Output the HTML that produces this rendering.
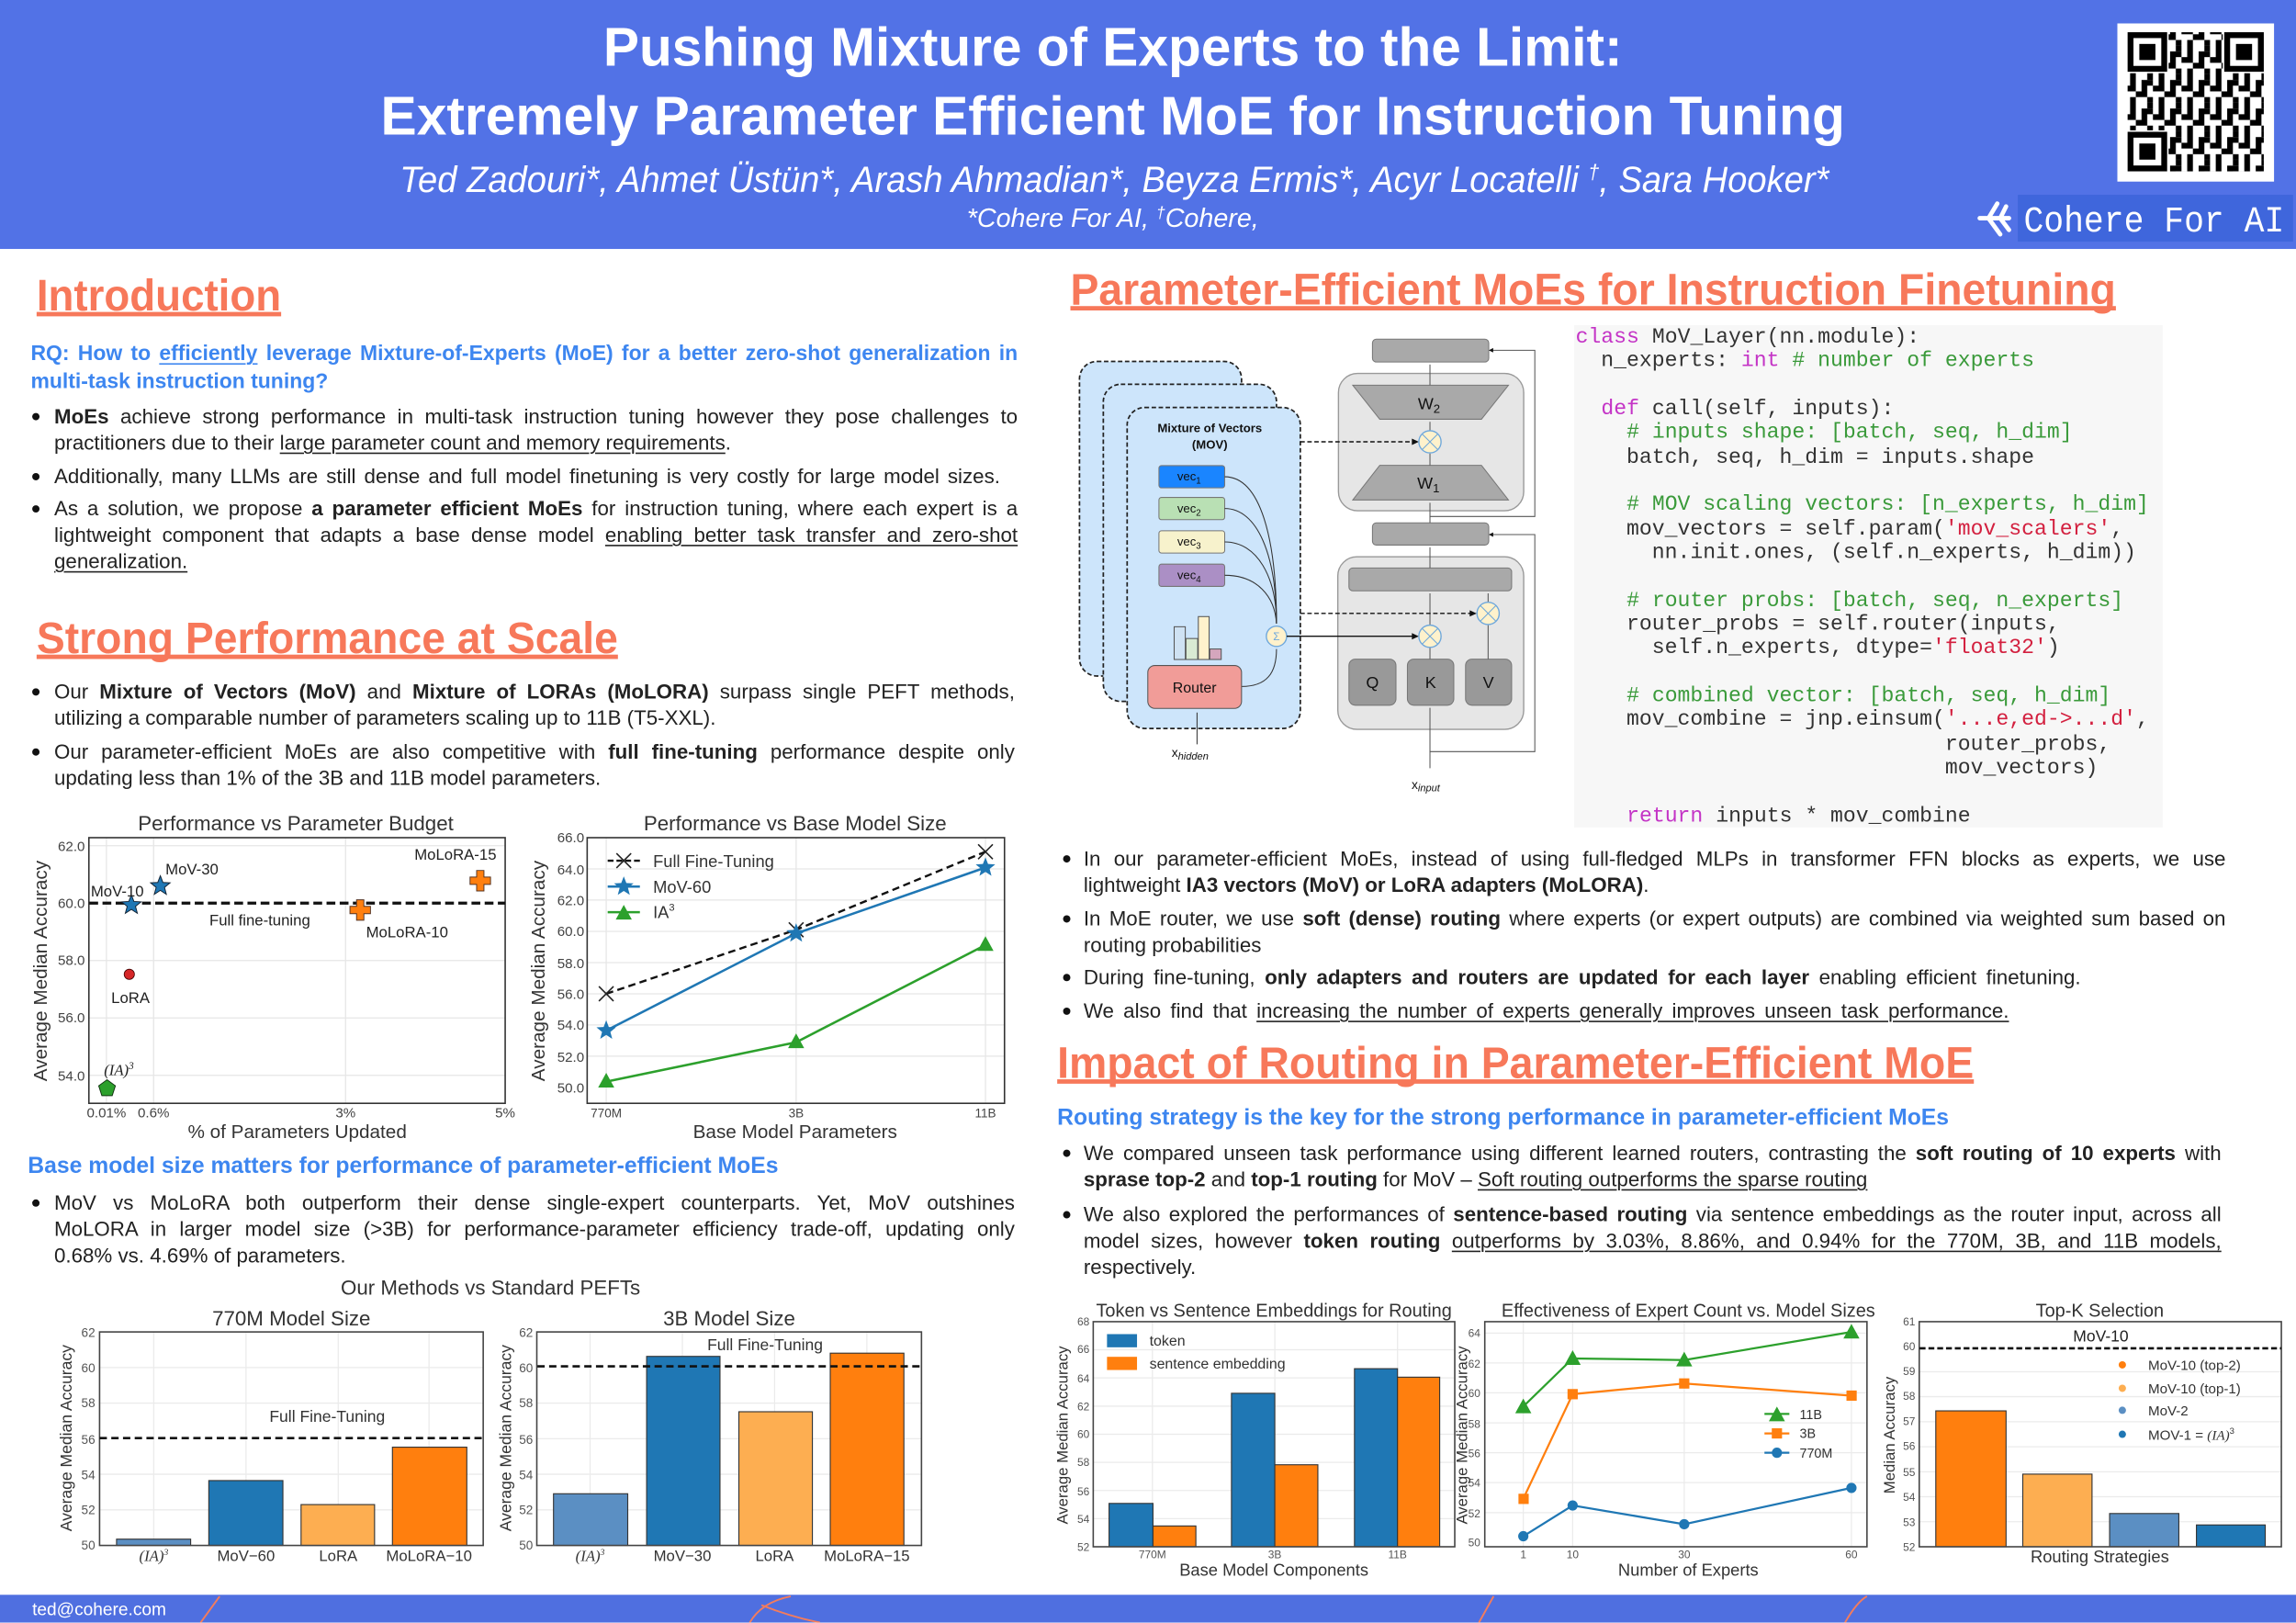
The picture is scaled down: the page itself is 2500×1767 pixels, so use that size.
<!DOCTYPE html>
<html><head><meta charset="utf-8"><style>
html,body{margin:0;padding:0;background:#fff;}
body{width:2500px;height:1767px;overflow:hidden;position:relative;}
#c{position:absolute;left:0;top:0;width:1568px;height:1108px;transform:scale(1.59439);transform-origin:0 0;font-family:"Liberation Sans",sans-serif;color:#222;}
.L{position:absolute;height:18px;line-height:18px;font-size:14px;white-space:nowrap;}
.J{text-align:justify;text-align-last:justify;}
.B{position:absolute;width:5px;height:5px;border-radius:50%;background:#111;}
.blue{color:#3d86f0;font-weight:bold;font-size:14.5px;}
u{text-decoration-thickness:1px;text-underline-offset:2px;}
#code{position:absolute;left:1075px;top:222px;width:402px;height:343px;background:#f7f7f7;}
.cl{position:absolute;left:1px;height:16px;line-height:16px;font-family:"Liberation Mono",monospace;font-size:14.5px;white-space:pre;color:#333;}
.k{color:#c434c6}.g{color:#3a9a3a}.s{color:#d3203f}
svg{position:absolute;left:0;top:0;}
</style></head><body><div id="c">
<svg width="1568" height="1108" viewBox="0 0 1568 1108" font-family="Liberation Sans, sans-serif">
<defs>
<polygon id="star" points="0,-7 1.76,-2.43 6.66,-2.16 2.85,0.93 4.11,5.66 0,3 -4.11,5.66 -2.85,0.93 -6.66,-2.16 -1.76,-2.43"/>
<polygon id="plus" points="-2.5,-7 2.5,-7 2.5,-2.5 7,-2.5 7,2.5 2.5,2.5 2.5,7 -2.5,7 -2.5,2.5 -7,2.5 -7,-2.5 -2.5,-2.5"/>
<polygon id="tri" points="0,-6 5.5,4 -5.5,4"/>
<pattern id="qr" width="19.5" height="19.5" patternUnits="userSpaceOnUse">
<rect x="0" y="0" width="3.9" height="7.8" fill="#000"/><rect x="7.8" y="0" width="7.8" height="3.9" fill="#000"/><rect x="3.9" y="11.7" width="3.9" height="3.9" fill="#000"/><rect x="11.7" y="7.8" width="3.9" height="11.7" fill="#000"/><rect x="0" y="15.6" width="7.8" height="3.9" fill="#000"/><rect x="15.6" y="3.9" width="3.9" height="3.9" fill="#000"/><rect x="3.9" y="7.8" width="3.9" height="3.9" fill="#000"/>
</pattern>
</defs>
<!-- header -->
<rect x="0" y="0" width="1568" height="170" fill="#5272e6"/>
<text x="760" y="45" text-anchor="middle" font-size="37" font-weight="bold" fill="#fff" textLength="696" lengthAdjust="spacingAndGlyphs">Pushing Mixture of Experts to the Limit:</text>
<text x="760" y="92" text-anchor="middle" font-size="37" font-weight="bold" fill="#fff" textLength="1000" lengthAdjust="spacingAndGlyphs">Extremely Parameter Efficient MoE for Instruction Tuning</text>
<text x="761" y="131" text-anchor="middle" font-size="25" font-style="italic" fill="#fff" textLength="976" lengthAdjust="spacingAndGlyphs">Ted Zadouri*, Ahmet Üstün*, Arash Ahmadian*, Beyza Ermis*, Acyr Locatelli <tspan font-size="14" dy="-9">†</tspan><tspan dy="9">, Sara Hooker*</tspan></text>
<text x="760" y="155" text-anchor="middle" font-size="18" font-style="italic" fill="#fff">*Cohere For AI,  <tspan font-size="11" dy="-6">†</tspan><tspan dy="6">Cohere,</tspan></text>
<rect x="1446" y="16" width="107" height="108" fill="#fff"/>
<rect x="1453" y="22" width="93" height="95" fill="url(#qr)"/>
<g fill="#fff"><rect x="1452" y="21" width="29" height="29"/><rect x="1518" y="21" width="29" height="29"/><rect x="1452" y="89" width="29" height="29"/></g>
<g fill="none" stroke="#000" stroke-width="4"><rect x="1455" y="24" width="23" height="23"/><rect x="1521" y="24" width="23" height="23"/><rect x="1455" y="92" width="23" height="23"/></g>
<g fill="#000"><rect x="1461" y="30" width="11" height="11"/><rect x="1527" y="30" width="11" height="11"/><rect x="1461" y="98" width="11" height="11"/></g>
<rect x="1378" y="133" width="188" height="32" fill="#3f66dc"/>
<text x="1382" y="158" font-family="Liberation Mono, monospace" font-size="25" fill="#fff" textLength="178" lengthAdjust="spacingAndGlyphs">Cohere For AI</text>
<g stroke="#fff" stroke-width="3" fill="none" stroke-linecap="round"><path d="M1352 149 L1372 149 M1364 139 L1358 149 L1366 160 M1370 141 L1366 149 L1372 157"/></g>
<!-- footer -->
<rect x="0" y="1089" width="1568" height="19" fill="#4f6fe0"/>
<g stroke="#f47c5c" stroke-width="1.2" fill="none"><path d="M137 1108 L150 1090"/><path d="M512 1108 Q520 1094 540 1090 M520 1096 Q540 1104 560 1108"/><path d="M1010 1108 L1020 1090"/><path d="M1260 1108 Q1268 1094 1275 1090"/></g>
<text x="22" y="1103" font-size="12" fill="#fff">ted@cohere.com</text>
<!-- headings -->
<g fill="#f7785a" font-weight="bold">
<text x="25" y="212" font-size="30" textLength="167" lengthAdjust="spacingAndGlyphs">Introduction</text>
<rect x="25" y="213" width="167" height="3"/>
<text x="25" y="446" font-size="30" textLength="397" lengthAdjust="spacingAndGlyphs">Strong Performance at Scale</text>
<rect x="25" y="447" width="397" height="3"/>
<text x="731" y="208" font-size="30" textLength="714" lengthAdjust="spacingAndGlyphs">Parameter-Efficient MoEs for Instruction Finetuning</text>
<rect x="731" y="209" width="714" height="3"/>
<text x="722" y="736" font-size="30" textLength="626" lengthAdjust="spacingAndGlyphs">Impact of Routing in Parameter-Efficient MoE</text>
<rect x="722" y="737" width="626" height="3"/>
</g>

<!-- Chart 1 -->
<g font-size="9.5" fill="#444">
<text x="202" y="567" text-anchor="middle" font-size="14" fill="#333">Performance vs Parameter Budget</text>
<g stroke="#e6e6e6" stroke-width="0.8"><line x1="61" y1="734.3" x2="345" y2="734.3"/><line x1="61" y1="695.1" x2="345" y2="695.1"/><line x1="61" y1="655.9" x2="345" y2="655.9"/><line x1="61" y1="577.5" x2="345" y2="577.5"/><line x1="72.7" y1="572" x2="72.7" y2="753"/><line x1="104.9" y1="572" x2="104.9" y2="753"/><line x1="236" y1="572" x2="236" y2="753"/></g>
<rect x="60.7" y="572" width="284.3" height="181.4" fill="none" stroke="#333" stroke-width="1"/>
<g text-anchor="end"><text x="58" y="581">62.0</text><text x="58" y="620">60.0</text><text x="58" y="659">58.0</text><text x="58" y="698">56.0</text><text x="58" y="738">54.0</text></g>
<g text-anchor="middle"><text x="72.7" y="763">0.01%</text><text x="104.9" y="763">0.6%</text><text x="236" y="763">3%</text><text x="345" y="763">5%</text></g>
<text x="203" y="777" text-anchor="middle" font-size="13" fill="#333">% of Parameters Updated</text>
<text transform="translate(32,663) rotate(-90)" text-anchor="middle" font-size="13" fill="#333">Average Median Accuracy</text>
<line x1="61" y1="616.7" x2="345" y2="616.7" stroke="#111" stroke-width="2" stroke-dasharray="6,3"/>
<use href="#star" x="89.7" y="618" fill="#1f77b4" stroke="#123" stroke-width="0.6"/>
<use href="#star" x="109.5" y="605" fill="#1f77b4" stroke="#123" stroke-width="0.6"/>
<circle cx="88.3" cy="665.3" r="3.5" fill="#d62728" stroke="#400" stroke-width="0.5"/>
<polygon transform="translate(73.1,743.3)" points="0,-6 5.7,-1.85 3.53,4.85 -3.53,4.85 -5.7,-1.85" fill="#2ca02c" stroke="#131" stroke-width="0.6"/>
<use href="#plus" x="246" y="621.4" fill="#ff7f0e" stroke="#532" stroke-width="0.6"/>
<use href="#plus" x="328" y="601.4" fill="#ff7f0e" stroke="#532" stroke-width="0.6"/>
<g font-size="10.5" fill="#222"><text x="113" y="597">MoV-30</text><text x="62" y="612">MoV-10</text><text x="143" y="632">Full fine-tuning</text><text x="250" y="640">MoLoRA-10</text><text x="283" y="587">MoLoRA-15</text><text x="76" y="685">LoRA</text><text x="71" y="734" font-family="Liberation Serif, serif" font-style="italic">(IA)<tspan font-size="7" dy="-4">3</tspan></text></g>
</g>
<!-- Chart 2 -->
<g font-size="9.5" fill="#444">
<text x="543" y="567" text-anchor="middle" font-size="14" fill="#333">Performance vs Base Model Size</text>
<g stroke="#e6e6e6" stroke-width="0.8"><line x1="401" y1="593.3" x2="686" y2="593.3"/><line x1="401" y1="614.6" x2="686" y2="614.6"/><line x1="401" y1="636" x2="686" y2="636"/><line x1="401" y1="657.3" x2="686" y2="657.3"/><line x1="401" y1="678.6" x2="686" y2="678.6"/><line x1="401" y1="699.9" x2="686" y2="699.9"/><line x1="401" y1="721.2" x2="686" y2="721.2"/><line x1="414" y1="572" x2="414" y2="753"/><line x1="543.7" y1="572" x2="543.7" y2="753"/><line x1="673" y1="572" x2="673" y2="753"/></g>
<rect x="401" y="572" width="285" height="181.4" fill="none" stroke="#333" stroke-width="1"/>
<g text-anchor="end"><text x="399" y="575">66.0</text><text x="399" y="597">64.0</text><text x="399" y="618">62.0</text><text x="399" y="639">60.0</text><text x="399" y="661">58.0</text><text x="399" y="682">56.0</text><text x="399" y="703">54.0</text><text x="399" y="725">52.0</text><text x="399" y="746">50.0</text></g>
<g text-anchor="middle" font-size="8.5"><text x="414" y="763">770M</text><text x="543.7" y="763">3B</text><text x="673" y="763">11B</text></g>
<text x="543" y="777" text-anchor="middle" font-size="13" fill="#333">Base Model Parameters</text>
<text transform="translate(372,663) rotate(-90)" text-anchor="middle" font-size="13" fill="#333">Average Median Accuracy</text>
<polyline points="414,678.6 543.7,634.9 673,581.6" fill="none" stroke="#111" stroke-width="1.5" stroke-dasharray="5,3"/>
<g stroke="#222" stroke-width="1"><path d="M409 673.6 l10 10 m0 -10 l-10 10 M538.7 629.9 l10 10 m0 -10 l-10 10 M668 576.6 l10 10 m0 -10 l-10 10"/></g>
<polyline points="414,703.7 543.7,637.4 673,592.4" fill="none" stroke="#1f77b4" stroke-width="1.6"/>
<use href="#star" x="414" y="703.7" fill="#1f77b4"/><use href="#star" x="543.7" y="637.4" fill="#1f77b4"/><use href="#star" x="673" y="592.4" fill="#1f77b4"/>
<polyline points="414,738.6 543.7,711.7 673,645.3" fill="none" stroke="#2ca02c" stroke-width="1.6"/>
<use href="#tri" x="414" y="738.6" fill="#2ca02c"/><use href="#tri" x="543.7" y="711.7" fill="#2ca02c"/><use href="#tri" x="673" y="645.3" fill="#2ca02c"/>
<line x1="415" y1="587.7" x2="437" y2="587.7" stroke="#111" stroke-width="1.5" stroke-dasharray="4,2"/><path d="M421 582.7 l10 10 m0 -10 l-10 10" stroke="#222"/>
<line x1="415" y1="605.4" x2="437" y2="605.4" stroke="#1f77b4" stroke-width="1.6"/><use href="#star" x="426" y="605.4" fill="#1f77b4"/>
<line x1="415" y1="622.9" x2="437" y2="622.9" stroke="#2ca02c" stroke-width="1.6"/><use href="#tri" x="426" y="623.9" fill="#2ca02c"/>
<g font-size="11.5" fill="#333"><text x="446" y="592">Full Fine-Tuning</text><text x="446" y="609.5">MoV-60</text><text x="446" y="627">IA<tspan font-size="7" dy="-5">3</tspan></text></g>
</g>
<!-- Bar charts left -->
<text x="335" y="884" text-anchor="middle" font-size="14" fill="#333">Our Methods vs Standard PEFTs</text>
<g font-size="8.5" fill="#555">
<text x="199" y="905" text-anchor="middle" font-size="14" fill="#333">770M Model Size</text>
<g stroke="#ebebeb" stroke-width="0.8"><line x1="68" y1="933.8" x2="330" y2="933.8"/><line x1="68" y1="958.1" x2="330" y2="958.1"/><line x1="68" y1="1006.7" x2="330" y2="1006.7"/><line x1="68" y1="1031" x2="330" y2="1031"/><line x1="105" y1="909.5" x2="105" y2="1055"/><line x1="168" y1="909.5" x2="168" y2="1055"/><line x1="231" y1="909.5" x2="231" y2="1055"/><line x1="293" y1="909.5" x2="293" y2="1055"/></g>
<g stroke="#333" stroke-width="0.7"><rect x="79.6" y="1051" width="50.6" height="4.3" fill="#5b8fc3"/><rect x="142.6" y="1011" width="50.6" height="44.3" fill="#1f77b4"/><rect x="205.6" y="1027.4" width="50.2" height="27.9" fill="#fdae51"/><rect x="268" y="988.2" width="50.8" height="67.1" fill="#ff7f0e"/></g>
<rect x="68" y="909.5" width="262" height="145.8" fill="none" stroke="#444"/>
<line x1="68" y1="982" x2="330" y2="982" stroke="#111" stroke-width="1.6" stroke-dasharray="5,3"/>
<text x="184" y="971" font-size="11" fill="#333">Full Fine-Tuning</text>
<g text-anchor="end"><text x="65" y="913">62</text><text x="65" y="937">60</text><text x="65" y="961">58</text><text x="65" y="986">56</text><text x="65" y="1010">54</text><text x="65" y="1034">52</text><text x="65" y="1058">50</text></g>
<g text-anchor="middle" font-size="10.5" fill="#333"><text x="105" y="1066" font-family="Liberation Serif, serif" font-style="italic">(IA)<tspan font-size="6" dy="-4">3</tspan></text><text x="168" y="1066">MoV−60</text><text x="231" y="1066">LoRA</text><text x="293" y="1066">MoLoRA−10</text></g>
<text transform="translate(49,982) rotate(-90)" text-anchor="middle" font-size="11" fill="#333">Average Median Accuracy</text>

<text x="498" y="905" text-anchor="middle" font-size="14" fill="#333">3B Model Size</text>
<g stroke="#ebebeb" stroke-width="0.8"><line x1="367" y1="958.1" x2="629" y2="958.1"/><line x1="367" y1="982.4" x2="629" y2="982.4"/><line x1="367" y1="1006.7" x2="629" y2="1006.7"/><line x1="367" y1="1031" x2="629" y2="1031"/><line x1="403" y1="909.5" x2="403" y2="1055"/><line x1="466" y1="909.5" x2="466" y2="1055"/><line x1="529" y1="909.5" x2="529" y2="1055"/><line x1="592" y1="909.5" x2="592" y2="1055"/></g>
<g stroke="#333" stroke-width="0.7"><rect x="378" y="1020" width="50.7" height="35.3" fill="#5b8fc3"/><rect x="441.6" y="926.2" width="50.1" height="129.1" fill="#1f77b4"/><rect x="504.6" y="964" width="50.2" height="91.3" fill="#fdae51"/><rect x="567" y="924" width="50.3" height="131.3" fill="#ff7f0e"/></g>
<rect x="366.6" y="909.5" width="262.7" height="145.8" fill="none" stroke="#444"/>
<line x1="367" y1="933" x2="629" y2="933" stroke="#111" stroke-width="1.6" stroke-dasharray="5,3"/>
<text x="483" y="922" font-size="11" fill="#333">Full Fine-Tuning</text>
<g text-anchor="end"><text x="364" y="913">62</text><text x="364" y="937">60</text><text x="364" y="961">58</text><text x="364" y="986">56</text><text x="364" y="1010">54</text><text x="364" y="1034">52</text><text x="364" y="1058">50</text></g>
<g text-anchor="middle" font-size="10.5" fill="#333"><text x="403" y="1066" font-family="Liberation Serif, serif" font-style="italic">(IA)<tspan font-size="6" dy="-4">3</tspan></text><text x="466" y="1066">MoV−30</text><text x="529" y="1066">LoRA</text><text x="592" y="1066">MoLoRA−15</text></g>
<text transform="translate(349,982) rotate(-90)" text-anchor="middle" font-size="11" fill="#333">Average Median Accuracy</text>
</g>

<!-- Chart A -->
<g font-size="7.5" fill="#555">
<text x="870" y="899" text-anchor="middle" font-size="12.5" fill="#333">Token vs Sentence Embeddings for Routing</text>
<g stroke="#ebebeb" stroke-width="0.8"><line x1="747" y1="921.7" x2="993" y2="921.7"/><line x1="747" y1="940.9" x2="993" y2="940.9"/><line x1="747" y1="960.2" x2="993" y2="960.2"/><line x1="747" y1="979.4" x2="993" y2="979.4"/><line x1="747" y1="998.6" x2="993" y2="998.6"/><line x1="747" y1="1017.8" x2="993" y2="1017.8"/><line x1="747" y1="1037" x2="993" y2="1037"/><line x1="787" y1="902" x2="787" y2="1056"/><line x1="870.6" y1="902" x2="870.6" y2="1056"/><line x1="954.4" y1="902" x2="954.4" y2="1056"/></g>
<g stroke="#333" stroke-width="0.7"><rect x="757.4" y="1026.6" width="30" height="29.6" fill="#1f77b4"/><rect x="787.4" y="1042" width="29.3" height="14.2" fill="#ff7f0e"/><rect x="841" y="951.4" width="29.6" height="104.8" fill="#1f77b4"/><rect x="870.6" y="1000.2" width="29.4" height="56" fill="#ff7f0e"/><rect x="925" y="934.6" width="29.4" height="121.6" fill="#1f77b4"/><rect x="954.4" y="940.4" width="28.8" height="115.8" fill="#ff7f0e"/></g>
<rect x="746.6" y="902.5" width="246.9" height="153.7" fill="none" stroke="#444"/>
<rect x="756" y="911" width="20.5" height="9" fill="#1f77b4"/><rect x="756" y="926.5" width="20.5" height="9" fill="#ff7f0e"/>
<text x="785" y="919" font-size="10" fill="#333">token</text><text x="785" y="934.5" font-size="10" fill="#333">sentence embedding</text>
<g text-anchor="end"><text x="744" y="905">68</text><text x="744" y="924">66</text><text x="744" y="944">64</text><text x="744" y="963">62</text><text x="744" y="982">60</text><text x="744" y="1001">58</text><text x="744" y="1021">56</text><text x="744" y="1040">54</text><text x="744" y="1059">52</text></g>
<g text-anchor="middle"><text x="787" y="1064">770M</text><text x="870.6" y="1064">3B</text><text x="954.4" y="1064">11B</text></g>
<text x="870" y="1076" text-anchor="middle" font-size="11.5" fill="#333">Base Model Components</text>
<text transform="translate(729,980) rotate(-90)" text-anchor="middle" font-size="10.5" fill="#333">Average Median Accuracy</text>
</g>
<!-- Chart B -->
<g font-size="7.5" fill="#555">
<text x="1153" y="899" text-anchor="middle" font-size="12.5" fill="#333">Effectiveness of Expert Count vs. Model Sizes</text>
<g stroke="#ebebeb" stroke-width="0.8"><line x1="1014" y1="910.3" x2="1275" y2="910.3"/><line x1="1014" y1="930.7" x2="1275" y2="930.7"/><line x1="1014" y1="951.1" x2="1275" y2="951.1"/><line x1="1014" y1="971.6" x2="1275" y2="971.6"/><line x1="1014" y1="992" x2="1275" y2="992"/><line x1="1014" y1="1012.4" x2="1275" y2="1012.4"/><line x1="1014" y1="1032.9" x2="1275" y2="1032.9"/><line x1="1040.3" y1="902" x2="1040.3" y2="1056"/><line x1="1074" y1="902" x2="1074" y2="1056"/><line x1="1150.2" y1="902" x2="1150.2" y2="1056"/><line x1="1264.4" y1="902" x2="1264.4" y2="1056"/></g>
<rect x="1014" y="902.5" width="261" height="153.7" fill="none" stroke="#444"/>
<polyline points="1040.3,960.4 1074,927.6 1150.2,928.7 1264.4,909.5" fill="none" stroke="#2ca02c" stroke-width="1.4"/>
<g fill="#2ca02c"><use href="#tri" x="1040.3" y="961"/><use href="#tri" x="1074" y="928"/><use href="#tri" x="1150.2" y="929"/><use href="#tri" x="1264.4" y="910"/></g>
<polyline points="1040.3,1023.4 1074,952 1150.2,944.7 1264.4,953" fill="none" stroke="#ff7f0e" stroke-width="1.4"/>
<g fill="#ff7f0e"><rect x="1037" y="1020" width="7" height="7"/><rect x="1070.5" y="948.5" width="7" height="7"/><rect x="1146.7" y="941.2" width="7" height="7"/><rect x="1261" y="949.5" width="7" height="7"/></g>
<polyline points="1040.3,1049 1074,1028 1150.2,1040.8 1264.4,1016" fill="none" stroke="#1f77b4" stroke-width="1.4"/>
<g fill="#1f77b4"><circle cx="1040.3" cy="1049" r="3.5"/><circle cx="1074" cy="1028" r="3.5"/><circle cx="1150.2" cy="1040.8" r="3.5"/><circle cx="1264.4" cy="1016" r="3.5"/></g>
<line x1="1205" y1="965.5" x2="1222" y2="965.5" stroke="#2ca02c" stroke-width="1.4"/><use href="#tri" x="1213.5" y="966.5" fill="#2ca02c"/>
<line x1="1205" y1="978.8" x2="1222" y2="978.8" stroke="#ff7f0e" stroke-width="1.4"/><rect x="1210" y="975.3" width="7" height="7" fill="#ff7f0e"/>
<line x1="1205" y1="992" x2="1222" y2="992" stroke="#1f77b4" stroke-width="1.4"/><circle cx="1213.5" cy="992" r="3.5" fill="#1f77b4"/>
<g font-size="9" fill="#333"><text x="1229" y="969">11B</text><text x="1229" y="982">3B</text><text x="1229" y="995.5">770M</text></g>
<g text-anchor="end"><text x="1011" y="913">64</text><text x="1011" y="934">62</text><text x="1011" y="954">60</text><text x="1011" y="975">58</text><text x="1011" y="995">56</text><text x="1011" y="1015">54</text><text x="1011" y="1036">52</text><text x="1011" y="1056">50</text></g>
<g text-anchor="middle"><text x="1040.3" y="1064">1</text><text x="1074" y="1064">10</text><text x="1150.2" y="1064">30</text><text x="1264.4" y="1064">60</text></g>
<text x="1153" y="1076" text-anchor="middle" font-size="11.5" fill="#333">Number of Experts</text>
<text transform="translate(1002,980) rotate(-90)" text-anchor="middle" font-size="10.5" fill="#333">Average Median Accuracy</text>
</g>
<!-- Chart C -->
<g font-size="7.5" fill="#555">
<text x="1434" y="899" text-anchor="middle" font-size="12.5" fill="#333">Top-K Selection</text>
<g stroke="#ebebeb" stroke-width="0.8"><line x1="1311" y1="936.7" x2="1558" y2="936.7"/><line x1="1311" y1="953.7" x2="1558" y2="953.7"/><line x1="1311" y1="970.8" x2="1558" y2="970.8"/><line x1="1311" y1="987.9" x2="1558" y2="987.9"/><line x1="1311" y1="1005" x2="1558" y2="1005"/><line x1="1311" y1="1022" x2="1558" y2="1022"/><line x1="1311" y1="1039.1" x2="1558" y2="1039.1"/></g>
<g stroke="#333" stroke-width="0.7"><rect x="1322" y="963.4" width="48" height="92.8" fill="#ff7f0e"/><rect x="1381.4" y="1006.6" width="47.3" height="49.6" fill="#fdae51"/><rect x="1440.7" y="1033.5" width="47.3" height="22.7" fill="#5b8fc3"/><rect x="1500" y="1041.3" width="47" height="14.9" fill="#1f77b4"/></g>
<rect x="1310.7" y="902.5" width="247.3" height="153.7" fill="none" stroke="#444"/>
<line x1="1311" y1="920.7" x2="1558" y2="920.7" stroke="#111" stroke-width="1.6" stroke-dasharray="4,2"/>
<text x="1434.7" y="916" text-anchor="middle" font-size="11" fill="#222">MoV-10</text>
<circle cx="1449.4" cy="932" r="2.5" fill="#ff7f0e"/><circle cx="1449.4" cy="948" r="2.5" fill="#fdae51"/><circle cx="1449.4" cy="963" r="2.5" fill="#5b8fc3"/><circle cx="1449.4" cy="979.4" r="2.5" fill="#1f77b4"/>
<g font-size="9.5" fill="#333"><text x="1467" y="935.5">MoV-10 (top-2)</text><text x="1467" y="951.5">MoV-10 (top-1)</text><text x="1467" y="966.5">MoV-2</text><text x="1467" y="983">MOV-1 = <tspan font-family="Liberation Serif, serif" font-style="italic">(IA)</tspan><tspan font-size="6" dy="-4">3</tspan></text></g>
<g text-anchor="end"><text x="1308" y="905">61</text><text x="1308" y="922">60</text><text x="1308" y="939">59</text><text x="1308" y="956">58</text><text x="1308" y="973">57</text><text x="1308" y="990">56</text><text x="1308" y="1008">55</text><text x="1308" y="1025">54</text><text x="1308" y="1042">53</text><text x="1308" y="1059">52</text></g>
<text x="1434" y="1067" text-anchor="middle" font-size="11.5" fill="#333">Routing Strategies</text>
<text transform="translate(1294,980) rotate(-90)" text-anchor="middle" font-size="10.5" fill="#333">Median Accuracy</text>
</g>

<!-- Diagram -->
<g transform="translate(730.7,216.4) scale(0.217)" font-family="Liberation Sans, sans-serif">
<g fill="#cde5fb" stroke="#222" stroke-width="5" stroke-dasharray="14,8">
<rect x="30" y="140" width="510" height="990" rx="55"/>
<rect x="105" y="212" width="545" height="998" rx="55"/>
<rect x="180" y="285" width="545" height="1010" rx="55"/>
</g>
<text x="440" y="362" text-anchor="middle" font-size="38" font-weight="bold" fill="#111">Mixture of Vectors</text>
<text x="440" y="414" text-anchor="middle" font-size="38" font-weight="bold" fill="#111">(MOV)</text>
<g stroke="#777" stroke-width="3">
<rect x="280" y="468" width="207" height="70" rx="8" fill="#1a85ff"/>
<rect x="280" y="568" width="207" height="70" rx="8" fill="#b9e0b4"/>
<rect x="280" y="673" width="207" height="70" rx="8" fill="#f7f2cc"/>
<rect x="280" y="778" width="207" height="70" rx="8" fill="#ab8fc5"/>
</g>
<g font-size="38" fill="#111" text-anchor="middle"><text x="375" y="515">vec<tspan font-size="28" dy="10">1</tspan></text><text x="375" y="615">vec<tspan font-size="28" dy="10">2</tspan></text><text x="375" y="720">vec<tspan font-size="28" dy="10">3</tspan></text><text x="375" y="825">vec<tspan font-size="28" dy="10">4</tspan></text></g>
<g fill="none" stroke="#333" stroke-width="3">
<path d="M487 503 C600 503 650 700 650 965"/><path d="M487 603 C590 603 650 750 650 965"/><path d="M487 708 C590 708 650 820 650 965"/><path d="M487 813 C590 813 645 880 650 965"/>
<path d="M540 1163 C620 1163 650 1120 650 1045"/>
<path d="M400 1345 L400 1245"/>
</g>
<g stroke="#555" stroke-width="3"><rect x="328" y="975" width="35" height="103" fill="#cfe2f3"/><rect x="365" y="1012" width="37" height="66" fill="#d9ead3"/><rect x="404" y="943" width="34" height="135" fill="#fff2cc"/><rect x="440" y="1045" width="36" height="33" fill="#d5a6bd"/></g>
<rect x="245" y="1097" width="295" height="135" rx="22" fill="#f19c98" stroke="#555" stroke-width="3"/>
<text x="392" y="1182" text-anchor="middle" font-size="46" fill="#111">Router</text>
<text x="320" y="1385" font-size="40" fill="#111">x<tspan font-size="32" font-style="italic" dy="8">hidden</tspan></text>
<circle cx="650" cy="1005" r="32" fill="#fff2cc" stroke="#6fa8dc" stroke-width="4"/>
<text x="650" y="1018" text-anchor="middle" font-size="34" fill="#6fa8dc">Σ</text>
<rect x="845" y="178" width="583" height="432" rx="60" fill="#e6e6e6" stroke="#999" stroke-width="4"/>
<rect x="843" y="755" width="585" height="543" rx="60" fill="#e6e6e6" stroke="#999" stroke-width="4"/>
<g fill="#a9a9a9" stroke="#777" stroke-width="3">
<rect x="952" y="70" width="366" height="72" rx="12"/>
<rect x="952" y="648" width="366" height="70" rx="12"/>
<rect x="878" y="790" width="512" height="72" rx="12"/>
<path d="M890 215 L1380 215 L1295 322 L975 322 Z"/>
<path d="M975 467 L1295 467 L1380 576 L890 576 Z"/>
<rect x="878" y="1077" width="148" height="145" rx="20" fill="#999"/>
<rect x="1062" y="1077" width="146" height="145" rx="20" fill="#999"/>
<rect x="1245" y="1077" width="145" height="145" rx="20" fill="#999"/>
</g>
<g font-size="52" fill="#111" text-anchor="middle"><text x="1130" y="290">W<tspan font-size="38" dy="12">2</tspan></text><text x="1128" y="540">W<tspan font-size="38" dy="12">1</tspan></text><text x="952" y="1168">Q</text><text x="1135" y="1168">K</text><text x="1317" y="1168">V</text></g>
<g fill="none" stroke="#555" stroke-width="3">
<path d="M1133 1420 L1133 1230 M1133 1077 L1133 1040 M1133 970 L1133 870 M1316 1077 L1316 970 M1316 898 L1316 870 M1133 790 L1133 725 M1133 648 L1133 585 M1133 467 L1133 430 M1133 358 L1133 330 M1133 215 L1133 150"/>
<path d="M1133 1368 L1463 1368 L1463 685 L1325 685"/>
<path d="M1133 628 L1463 628 L1463 105 L1325 105"/>
</g>
<g stroke="#111" stroke-width="4" fill="none"><path d="M725 393 L1090 393" stroke-dasharray="14,8"/><path d="M725 933 L1272 933" stroke-dasharray="14,8"/><path d="M682 1005 L1090 1005"/></g>
<g fill="#111"><path d="M1098 393 l-22 -10 v20z"/><path d="M1280 933 l-22 -10 v20z"/><path d="M1098 1005 l-22 -10 v20z"/><path d="M1318 105 l14 -7 v14z"/><path d="M1318 685 l14 -7 v14z"/></g>
<g fill="#fff2cc" stroke="#6fa8dc" stroke-width="4"><circle cx="1133" cy="393" r="35"/><circle cx="1133" cy="1005" r="35"/><circle cx="1316" cy="933" r="35"/></g>
<g stroke="#6fa8dc" stroke-width="3"><path d="M1108 368 l50 50 m0 -50 l-50 50 M1108 980 l50 50 m0 -50 l-50 50 M1291 908 l50 50 m0 -50 l-50 50"/></g>
<text x="1075" y="1485" font-size="40" fill="#111">x<tspan font-size="32" font-style="italic" dy="8">input</tspan></text>
</g>
</svg>

<!-- Left text -->
<div class="L blue J" style="left:21px;top:233px;width:674px;font-size:14.4px">RQ: How to <u>efficiently</u> leverage Mixture-of-Experts (MoE) for a better zero-shot generalization in</div>
<div class="L blue" style="left:21px;top:252px;font-size:14.4px">multi-task instruction tuning?</div>
<div class="B" style="left:22px;top:282px"></div>
<div class="L J" style="left:37px;top:275px;width:658px"><b>MoEs</b> achieve strong performance in multi-task instruction tuning however they pose challenges to</div>
<div class="L" style="left:37px;top:293px">practitioners due to their <u>large parameter count and memory requirements</u>.</div>
<div class="B" style="left:22px;top:323px"></div>
<div class="L J" style="left:37px;top:316px;width:646px">Additionally, many LLMs are still dense and full model finetuning is very costly for large model sizes.</div>
<div class="B" style="left:22px;top:345px"></div>
<div class="L J" style="left:37px;top:338px;width:658px">As a solution, we propose <b>a parameter efficient MoEs</b> for instruction tuning, where each expert is a</div>
<div class="L J" style="left:37px;top:356px;width:658px">lightweight component that adapts a base dense model <u>enabling better task transfer and zero-shot</u></div>
<div class="L" style="left:37px;top:374px"><u>generalization.</u></div>

<div class="B" style="left:22px;top:470px"></div>
<div class="L J" style="left:37px;top:463px;width:656px">Our <b>Mixture of Vectors (MoV)</b> and <b>Mixture of LORAs (MoLORA)</b> surpass single PEFT methods,</div>
<div class="L" style="left:37px;top:481px">utilizing a comparable number of parameters scaling up to 11B (T5-XXL).</div>
<div class="B" style="left:22px;top:511px"></div>
<div class="L J" style="left:37px;top:504px;width:656px">Our parameter-efficient MoEs are also competitive with <b>full fine-tuning</b> performance despite only</div>
<div class="L" style="left:37px;top:522px">updating less than 1% of the 3B and 11B model parameters.</div>

<div class="L blue" style="left:19px;top:788px;font-size:15.5px">Base model size matters for performance of parameter-efficient MoEs</div>
<div class="B" style="left:22px;top:819px"></div>
<div class="L J" style="left:37px;top:812px;width:656px">MoV vs MoLoRA both outperform their dense single-expert counterparts. Yet, MoV outshines</div>
<div class="L J" style="left:37px;top:830px;width:656px">MoLORA in larger model size (&gt;3B) for performance-parameter efficiency trade-off, updating only</div>
<div class="L" style="left:37px;top:848px">0.68% vs. 4.69% of parameters.</div>

<!-- Code -->
<div id="code">
<div class="cl" style="top:1px"><span class="k">class</span> MoV_Layer(nn.module):</div>
<div class="cl" style="top:17px">  n_experts: <span class="k">int</span> <span class="g"># number of experts</span></div>
<div class="cl" style="top:50px">  <span class="k">def</span> call(self, inputs):</div>
<div class="cl" style="top:66px">    <span class="g"># inputs shape: [batch, seq, h_dim]</span></div>
<div class="cl" style="top:83px">    batch, seq, h_dim = inputs.shape</div>
<div class="cl" style="top:115px">    <span class="g"># MOV scaling vectors: [n_experts, h_dim]</span></div>
<div class="cl" style="top:132px">    mov_vectors = self.param(<span class="s">'mov_scalers'</span>,</div>
<div class="cl" style="top:148px">      nn.init.ones, (self.n_experts, h_dim))</div>
<div class="cl" style="top:181px">    <span class="g"># router probs: [batch, seq, n_experts]</span></div>
<div class="cl" style="top:197px">    router_probs = self.router(inputs,</div>
<div class="cl" style="top:213px">      self.n_experts, dtype=<span class="s">'float32'</span>)</div>
<div class="cl" style="top:246px">    <span class="g"># combined vector: [batch, seq, h_dim]</span></div>
<div class="cl" style="top:262px">    mov_combine = jnp.einsum(<span class="s">'...e,ed-&gt;...d'</span>,</div>
<div class="cl" style="top:279px">                             router_probs,</div>
<div class="cl" style="top:295px">                             mov_vectors)</div>
<div class="cl" style="top:328px">    <span class="k">return</span> inputs * mov_combine</div>
</div>

<!-- Right text -->
<div class="B" style="left:726px;top:584px"></div>
<div class="L J" style="left:740px;top:577px;width:780px">In our parameter-efficient MoEs, instead of using full-fledged MLPs in transformer FFN blocks as experts, we use</div>
<div class="L" style="left:740px;top:595px">lightweight <b>IA3 vectors (MoV) or LoRA adapters (MoLORA)</b>.</div>
<div class="B" style="left:726px;top:625px"></div>
<div class="L J" style="left:740px;top:618px;width:780px">In MoE router, we use <b>soft (dense) routing</b> where experts (or expert outputs) are combined via weighted sum based on</div>
<div class="L" style="left:740px;top:636px">routing probabilities</div>
<div class="B" style="left:726px;top:665px"></div>
<div class="L J" style="left:740px;top:658px;width:681px">During fine-tuning, <b>only adapters and routers are updated for each layer</b> enabling efficient finetuning.</div>
<div class="B" style="left:726px;top:688px"></div>
<div class="L J" style="left:740px;top:681px;width:632px">We also find that <u>increasing the number of experts generally improves unseen task performance.</u></div>

<div class="L blue" style="left:722px;top:755px;font-size:15.5px">Routing strategy is the key for the strong performance in parameter-efficient MoEs</div>
<div class="B" style="left:726px;top:785px"></div>
<div class="L J" style="left:740px;top:778px;width:777px">We compared unseen task performance using different learned routers, contrasting the <b>soft routing of 10 experts</b> with</div>
<div class="L" style="left:740px;top:796px"><b>sprase top-2</b> and <b>top-1 routing</b> for MoV – <u>Soft routing outperforms the sparse routing</u></div>
<div class="B" style="left:726px;top:827px"></div>
<div class="L J" style="left:740px;top:820px;width:777px">We also explored the performances of <b>sentence-based routing</b> via sentence embeddings as the router input, across all</div>
<div class="L J" style="left:740px;top:838px;width:777px">model sizes, however <b>token routing</b> <u>outperforms by 3.03%, 8.86%, and 0.94% for the 770M, 3B, and 11B models,</u></div>
<div class="L" style="left:740px;top:856px">respectively.</div>
</div></body></html>
